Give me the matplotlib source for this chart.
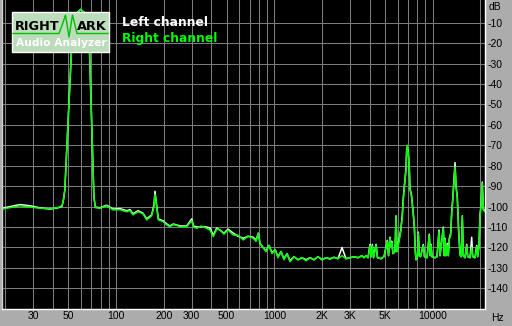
#plot.py


#COMMENT: Imports.

import matplotlib;
matplotlib.use("Agg");
import matplotlib.pyplot as plt;
from matplotlib.patches import Rectangle;
from matplotlib.lines import Line2D;
from matplotlib.ticker import NullFormatter;


#COMMENT: Spectrum data (frequency in Hz, level in dB).

freqs = [19.05, 21.4, 24.8, 28.6, 33.1, 38.3, 43.0, 45.6, 46.5, 47.5,
         53.0, 54.5, 57.0, 59.8, 63.0, 66.0, 67.5, 72.5, 74.0, 79.2,
         87.3, 95.7, 106, 116.8, 122.6, 128, 137.7, 148, 156.3, 168,
         173.8, 176.3, 179.7, 185, 199, 209, 219, 230, 241.6, 257.3,
         279.6, 300.6, 308.7, 323.4, 344.2, 374, 392.4, 411.6, 432.4, 453.7,
         480.8, 509.7, 550.6, 589.5, 636.9, 681.9, 736.5, 765.8, 791.8, 811.9,
         848, 886, 925, 967, 1010, 1055, 1102, 1151, 1202, 1256,
         1331, 1411, 1495, 1585, 1680, 1780, 1887, 2000, 2120, 2246,
         2381, 2523, 2674, 2835, 3004, 3184, 3375, 3577, 3683, 3792,
         3904, 4019, 4078, 4155, 4228, 4385, 4481, 4716, 4927, 5168,
         5260, 5376, 5455, 5510, 5615, 5781, 5866, 5952, 6066, 6281,
         6427, 6522, 6685, 6783, 6852, 6912, 7013, 7116, 7189, 7347,
         7542, 7653, 7765, 7844, 8017, 8110, 8229, 8374, 8722, 8876,
         9204, 9517, 9656, 9756, 9899, 10340, 10645, 10960, 11120, 11665,
         11836, 11958, 12133, 12364, 12545, 12729, 12993, 13183, 13376, 13631,
         13831, 14033, 14301, 14596, 14874, 15158, 15380, 15605, 15997, 16397,
         16637, 17203, 17632, 17890, 18498, 18960, 19238, 19608, 19890, 20182,
         20566, 20868, 21389];

rightDb = [-101.2, -100.5, -99.6, -100.2, -100.8, -101.0, -100.5, -99.5, -97, -92,
           -15, -8, -5, -3.5, -5, -9, -15, -95, -100.5, -100.8,
           -99.6, -101.6, -101.5, -102.5, -102, -104, -102.5, -103.5, -106.5, -104.5,
           -100, -94, -99, -106.5, -107.4, -109, -109.8, -108.8, -109.2, -110,
           -109.8, -106.9, -110, -110.6, -109.5, -110.6, -111.5, -114.7, -111, -111.4,
           -113.5, -111.5, -113.9, -114, -116.3, -114.5, -115.5, -117, -113, -118,
           -120, -122, -119, -123, -121, -125, -122, -126, -123, -127,
           -124.5, -126, -125, -126.5, -125, -126, -124.5, -126, -125, -125.8,
           -124.8, -125.5, -124, -125.5, -125, -124.5, -125, -124, -125, -124,
           -125, -119, -124.5, -119, -125, -119, -125, -125.5, -124.5, -117,
           -124, -115.5, -120, -117.5, -123, -122, -105, -122, -118.8, -112.3,
           -104.9, -96.8, -87, -82, -73, -70, -74, -82, -91.8, -95,
           -104, -109.8, -122, -126, -124.5, -113, -124, -124.5, -119, -124.5,
           -125, -114, -124, -119, -124.5, -125, -124.5, -112.3, -124, -110.5,
           -124, -116, -124, -118.8, -124, -116, -113.9, -103.3, -97.6, -87.8,
           -80.5, -90.2, -96, -113, -123.7, -124.5, -104.9, -124, -125, -119,
           -124.5, -125, -120, -124.5, -125, -119.5, -124.5, -119.6, -104.9, -100,
           -88.6, -101.7, -102.5];

leftDb = [-100.8, -100.0, -99.0, -99.6, -100.6, -101.2, -100.6, -99.8, -97, -92,
          -15, -8, -5, -3.5, -5, -9, -15, -95, -100.2, -100.6,
          -99.3, -101.2, -101, -102, -101.5, -103.5, -102, -103.2, -106, -104,
          -99, -92.5, -98, -106, -107, -108.5, -109.5, -108.5, -109, -109.5,
          -109.5, -106, -109.5, -110, -109.8, -110, -110.5, -114, -110.5, -111.5,
          -113, -111, -113, -114.5, -115.5, -114.5, -115, -116.5, -113, -118,
          -120, -121.5, -119, -122.5, -121, -124.5, -122, -125.5, -123, -126.5,
          -124.5, -126, -125, -126, -125, -126, -124.5, -126, -125, -125.5,
          -124.8, -125.5, -120, -125.5, -125, -124.5, -125, -124, -125, -124,
          -125, -118.5, -124.5, -118.5, -125, -118.5, -125, -125.5, -124.5, -116.5,
          -124, -115, -120, -117, -123, -122, -104.5, -122, -118, -111.5,
          -104, -95.5, -86, -81, -71.5, -71, -73, -81, -91, -94.5,
          -103.5, -109.5, -122, -126, -124.5, -112.5, -124, -124.5, -118.5, -124.5,
          -125, -113.5, -124, -118.5, -124.5, -125, -124.5, -111.5, -124, -110,
          -124, -115.5, -124, -118, -124, -115.5, -113, -102.5, -96.5, -86.5,
          -78.5, -89.5, -95.5, -112.5, -123.5, -124.5, -104.5, -124, -125, -118.5,
          -124.5, -125, -115, -124.5, -125, -119, -124.5, -119, -104, -99.5,
          -88, -101, -102];

gridFreqs = [20, 40, 60, 70, 80, 90, 400, 600, 700, 800, 900,
             4000, 6000, 7000, 8000, 9000, 20000];
labelFreqs = [30, 50, 100, 200, 300, 500, 1000, 2000, 3000, 5000, 10000];
labelTexts = ["30", "50", "100", "200", "300", "500", "1000", "2K", "3K", "5K", "10000"];
dbTicks = [-10, -20, -30, -40, -50, -60, -70, -80, -90, -100, -110, -120, -130, -140];


#COMMENT: Canvas in pixels, helpers to place things in figure fractions.

W = 512;
H = 326;

def fx(x):
    return x / W;

def fy(y):
    return 1.0 - y / H;

plt.rcParams['font.family'] = ['Liberation Sans', 'DejaVu Sans'];

fig = plt.figure(figsize = (W / 100, H / 100), dpi = 100, facecolor = '#acacac');

#COMMENT: The black plot area.

ax = fig.add_axes([fx(1.5), fy(309), (485 - 1.5) / W, 309 / H]);
ax.set_facecolor('black');
ax.set_xscale('log');
ax.set_xlim(18.92, 21390);
ax.set_ylim(-150.1, 1.1);

ax.set_xticks(labelFreqs, labelTexts);
ax.set_xticks(gridFreqs, minor = True);
ax.xaxis.set_minor_formatter(NullFormatter());
ax.set_yticks(dbTicks, [str(v) for v in dbTicks]);
ax.yaxis.tick_right();
ax.tick_params(which = 'both', length = 0, labelsize = 7.5, colors = 'black');
ax.tick_params(axis = 'x', pad = 1.5);
ax.tick_params(axis = 'y', pad = 1.5);
ax.set_axisbelow(True);
ax.grid(which = 'both', color = '#7c7c7c', linewidth = 0.75);

ax.spines['top'].set_visible(False);
ax.spines['left'].set_color('#d0d0d0');
ax.spines['right'].set_color('white');
ax.spines['bottom'].set_color('white');
for s in ['left', 'right', 'bottom']:
    ax.spines[s].set_linewidth(1.0);

#COMMENT: The two channels, right drawn over left.

ax.plot(freqs, leftDb, color = 'white', linewidth = 1.1);
ax.plot(freqs, rightDb, color = '#00ff00', linewidth = 1.1);

#COMMENT: Axis unit labels.

fig.text(fx(489), fy(7), "dB", fontsize = 7.5, va = 'center', ha = 'left');
fig.text(fx(491), fy(318), "Hz", fontsize = 7.5, va = 'center', ha = 'left');

#COMMENT: RightMark logo box.

fig.add_artist(Rectangle((fx(12), fy(52)), 97 / W, 40 / H, transform = fig.transFigure,
                         facecolor = '#bcdcbc', edgecolor = 'white', linewidth = 1.0));
fig.add_artist(Line2D([fx(v) for v in [13, 59, 62.5, 65.5, 69, 72.5, 77, 108]],
                      [fy(v) for v in [33.5, 33.5, 24, 15, 37, 15, 33.5, 33.5]],
                      transform = fig.transFigure, color = '#00c000', linewidth = 1.0));
fig.text(fx(14.5), fy(27), "RIGHT", fontsize = 9.3, fontweight = 'bold', color = 'black',
         va = 'center', ha = 'left', family = 'DejaVu Sans');
fig.text(fx(77), fy(27), "ARK", fontsize = 9.3, fontweight = 'bold', color = 'black',
         va = 'center', ha = 'left', family = 'DejaVu Sans');
fig.text(fx(61), fy(43.5), "Audio Analyzer", fontsize = 7.7, fontweight = 'bold',
         color = 'white', va = 'center', ha = 'center', family = 'DejaVu Sans');

#COMMENT: Legend texts.

fig.text(fx(122), fy(22.7), "Left channel", fontsize = 8.8, fontweight = 'bold',
         color = 'white', va = 'center', ha = 'left', family = 'DejaVu Sans');
fig.text(fx(122), fy(38.5), "Right channel", fontsize = 8.8, fontweight = 'bold',
         color = '#00ff00', va = 'center', ha = 'left', family = 'DejaVu Sans');

#COMMENT: Save the image and clean up.

fig.savefig("out.png", dpi = 100, facecolor = fig.get_facecolor());
plt.close();
